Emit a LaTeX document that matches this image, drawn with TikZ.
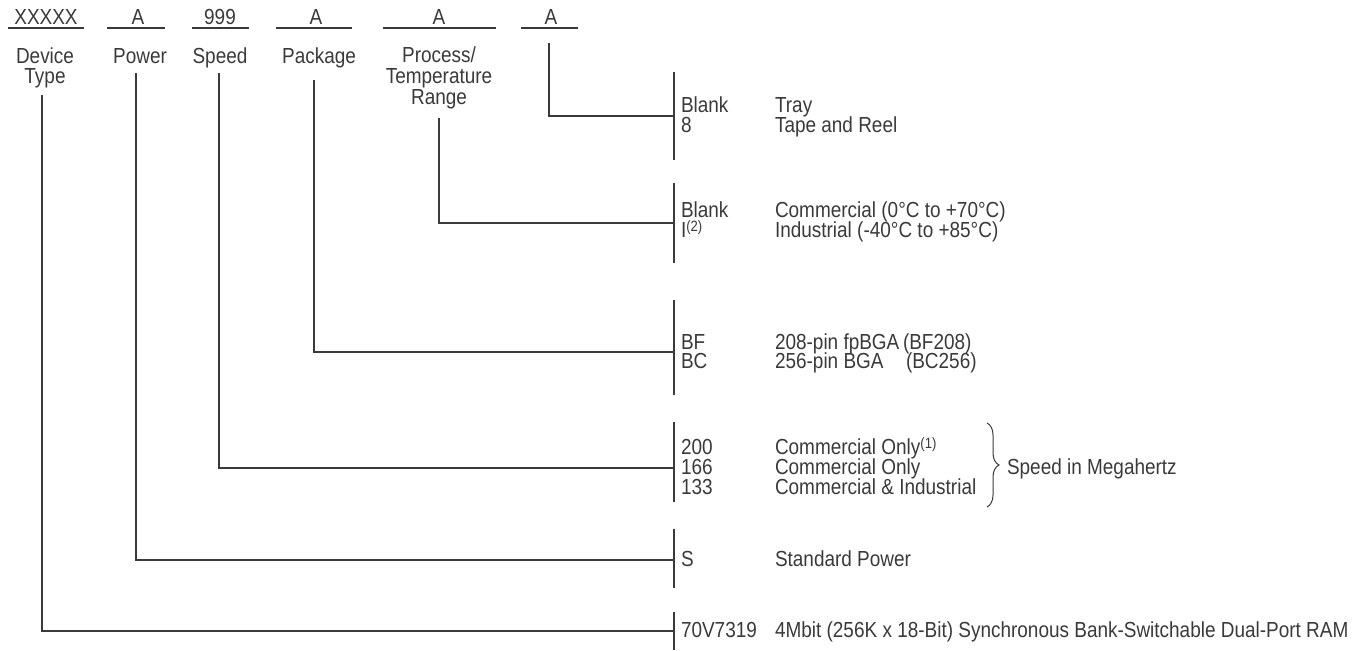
\documentclass[tikz,border=0pt]{standalone}
\usepackage{fontspec}
\setmainfont{Liberation Sans}[FakeStretch=0.87]
\usetikzlibrary{decorations.pathreplacing}
\definecolor{ink}{RGB}{58,58,58}
\newcommand{\supnote}[1]{\raisebox{0.3em}{\fontsize{7.5}{7.5}\selectfont #1}}
\begin{document}
\begin{tikzpicture}[x=0.5pt,y=-0.5pt,
  txt/.style={inner sep=0pt, outer sep=0pt, font=\fontsize{10.9}{10.9}\selectfont, text=ink},
  lbl/.style={txt, anchor=base},
  itm/.style={txt, anchor=base west},
  ln/.style={draw=ink, line width=0.6pt}]
\useasboundingbox (0,0) rectangle (1370,651);

% top code fields
\node[lbl] (t1) at (46,25) {XXXXX};
\node[lbl] (t2) at (138,25) {A};
\node[lbl] (t3) at (220,25) {999};
\node[lbl] (t4) at (316,25) {A};
\node[lbl] (t5) at (439,25) {A};
\node[lbl] (t6) at (551,25) {A};
\draw[ln] (8,28) -- (84,28);
\draw[ln] (107,28) -- (165,28);
\draw[ln] (192,28) -- (249,28);
\draw[ln] (276,28) -- (352,28);
\draw[ln] (383,28) -- (496,28);
\draw[ln] (521,28) -- (578,28);

% field labels
\node[lbl] (l1a) at (45,64) {Device};
\node[lbl] (l1b) at (45,84) {Type};
\node[lbl] (l2) at (140,64) {Power};
\node[lbl] (l3) at (220,64) {Speed};
\node[lbl] (l4) at (319,64) {Package};
\node[lbl] (l5a) at (439,63) {Process/};
\node[lbl] (l5b) at (439,84) {Temperature};
\node[lbl] (l5c) at (439,105) {Range};

% connector start points
\coordinate (s1) at (42,95);
\coordinate (s2) at (136,73);
\coordinate (s3) at (219,73);
\coordinate (s4) at (314,80);
\coordinate (s5) at (439,118);
\coordinate (s6) at (549,43);

% right-hand group brackets
\coordinate (g1) at (674,116);
\coordinate (g2) at (674,223);
\coordinate (g3) at (674,352);
\coordinate (g4) at (674,468);
\coordinate (g5) at (674,560);
\coordinate (g6) at (674,631);

\draw[ln] (674,72) -- (674,160);
\draw[ln] (674,183) -- (674,263);
\draw[ln] (674,300) -- (674,395);
\draw[ln] (674,422) -- (674,502);
\draw[ln] (674,529) -- (674,588);
\draw[ln] (674,612) -- (674,650);

\draw[ln] (s6) |- (g1);
\draw[ln] (s5) |- (g2);
\draw[ln] (s4) |- (g3);
\draw[ln] (s3) |- (g4);
\draw[ln] (s2) |- (g5);
\draw[ln] (s1) |- (g6);

% group 1
\node[itm] (c1a) at (681,113) {Blank};
\node[itm] (c1b) at (681,133) {8};
\node[itm] (d1a) at (775,113) {Tray};
\node[itm] (d1b) at (775,133) {Tape and Reel};
% group 2
\node[itm] (c2a) at (681,218) {Blank};
\node[itm] (c2b) at (681,238) {I\supnote{(2)}};
\node[itm] (d2a) at (775,218) {Commercial (0°C to +70°C)};
\node[itm] (d2b) at (775,238) {Industrial (-40°C to +85°C)};
% group 3
\node[itm] (c3a) at (681,350) {BF};
\node[itm] (c3b) at (681,369) {BC};
\node[itm] (d3a) at (775,350) {208-pin fpBGA};
\node[itm] (d3b) at (775,369) {256-pin BGA};
\node[itm] (e3a) at (903,350) {(BF208)};
\node[itm] (e3b) at (906,369) {(BC256)};
% group 4
\node[itm] (c4a) at (681,455) {200};
\node[itm] (c4b) at (681,475) {166};
\node[itm] (c4c) at (681,495) {133};
\node[itm] (d4a) at (775,455) {Commercial Only\supnote{(1)}};
\node[itm] (d4b) at (775,475) {Commercial Only};
\node[itm] (d4c) at (775,495) {Commercial \& Industrial};
\draw[ln, line width=0.5pt, decorate, decoration={brace, amplitude=6pt}] (987,423) -- (987,507);
\node[itm] (sp) at (1007,475) {Speed in Megahertz};
% group 5
\node[itm] (c5) at (681,567) {S};
\node[itm] (d5) at (775,567) {Standard Power};
% group 6
\node[itm] (c6) at (681,637) {70V7319};
\node[itm] (d6) at (775,637) {4Mbit (256K x 18-Bit) Synchronous Bank-Switchable Dual-Port RAM};
\end{tikzpicture}
\end{document}
